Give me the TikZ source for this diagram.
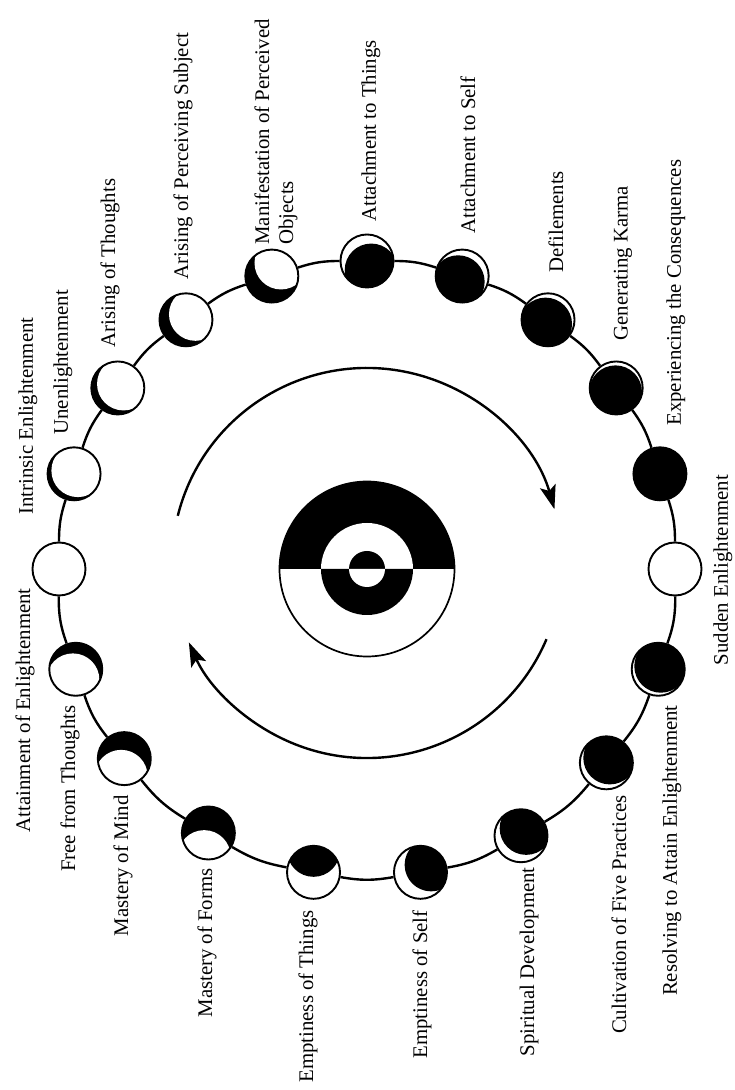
\documentclass[tikz,border=0pt]{standalone}
\usepackage{fontspec}
\setmainfont{Liberation Serif}
\usetikzlibrary{arrows.meta,calc}

\begin{document}
\begin{tikzpicture}[
  x=0.5pt, y=0.5pt,
  font=\fontsize{10.4}{12}\selectfont,
  moon/.style={draw, circle, line width=0.95pt, minimum size=26.5pt, inner sep=0pt, fill=white},
  blank/.style={moon},
  full/.style={moon, fill=black},
  litmoon/.style 2 args={moon, fill=black, path picture={
      \fill[white] ($(path picture bounding box.center)+(#1+180:#2)$) circle (13.25pt);}},
  darkmoon/.style 2 args={moon, fill=white, path picture={
      \fill[black] ($(path picture bounding box.center)+(#1+180:#2)$) circle (13.25pt);}},
  lbl/.style={rotate=90, inner sep=0pt},
  ring/.style={line width=1.2pt},
  arr/.style={line width=1.2pt, -{Stealth[length=12pt, width=8pt, inset=2.5pt]}}
]
\useasboundingbox (-367,-521) rectangle (367,569);

% ---------- centre ----------
\fill (87.5,0) arc (0:180:87.5) -- cycle;
\fill[white] (46,0) arc (0:180:46) -- cycle;
\fill (46,0) arc (0:-180:46) -- cycle;
\fill (18,0) arc (0:180:18) -- cycle;
\fill[white] (18,0) arc (0:-180:18) -- cycle;
\draw[line width=0.85pt] (0,0) circle (87.5);

% ---------- arrows ----------
\coordinate (a1) at ($(0,6)+(166:195)$);
\coordinate (a2) at ($(0,6)+(-23:195)$);
\draw[arr] (a1) arc[start angle=166, end angle=16, radius=195];
\draw[arr] (a2) arc[start angle=-23, end angle=-156, radius=195];

% ---------- upper half ----------
\node[blank] (m1) at (180:308) {};
\node[litmoon={220}{2.5pt}] (m2) at (162:308) {};
\node[litmoon={215}{3.5pt}] (m3) at (144:308) {};
\node[litmoon={210}{5.5pt}] (m4) at (126:308) {};
\node[litmoon={235}{8pt}] (m5) at (108:308) {};
\node[darkmoon={115}{5pt}] (m6) at (90:308) {};
\node[darkmoon={55}{3.5pt}] (m7) at (72:308) {};
\node[darkmoon={60}{2.5pt}] (m8) at (54:308) {};
\node[darkmoon={80}{2pt}] (m9) at (36:308) {};
\node[full] (m10) at (18:308) {};
\node[blank] (m11) at (0:308) {};

% ---------- lower half ----------
\node[darkmoon={230}{2pt}] (m12) at (-19:308) {};
\node[darkmoon={235}{3pt}] (m13) at (-39:308) {};
\node[darkmoon={235}{4.5pt}] (m14) at (-60:308) {};
\node[darkmoon={215}{6.5pt}] (m15) at (-80:308) {};
\node[darkmoon={270}{11pt}] (m16) at (-100:308) {};
\node[litmoon={80}{12pt}] (m17) at (-121:308) {};
\node[litmoon={80}{9pt}] (m18) at (-142:308) {};
\node[litmoon={75}{5.5pt}] (m19) at (-161:308) {};

\draw[ring] (m1) to[bend left=9] (m2); \draw[ring] (m2) to[bend left=9] (m3);
\draw[ring] (m3) to[bend left=9] (m4); \draw[ring] (m4) to[bend left=9] (m5);
\draw[ring] (m5) to[bend left=9] (m6); \draw[ring] (m6) to[bend left=9] (m7);
\draw[ring] (m7) to[bend left=9] (m8); \draw[ring] (m8) to[bend left=9] (m9);
\draw[ring] (m9) to[bend left=9] (m10); \draw[ring] (m10) to[bend left=9] (m11);
\draw[ring] (m11) to[bend left=10] (m12); \draw[ring] (m12) to[bend left=10] (m13);
\draw[ring] (m13) to[bend left=10] (m14); \draw[ring] (m14) to[bend left=10] (m15);
\draw[ring] (m15) to[bend left=10] (m16); \draw[ring] (m16) to[bend left=10] (m17);
\draw[ring] (m17) to[bend left=10] (m18); \draw[ring] (m18) to[bend left=10] (m19);
\draw[ring] (m19) to[bend left=10] (m1);

% ---------- labels ----------
\node[lbl, anchor=west] (t1) at (-339,54) {Intrinsic Enlightenment};
\node[lbl, anchor=west] (t2) at (-304,134) {Unenlightenment};
\node[lbl, anchor=west] (t3) at (-257,221) {Arising of Thoughts};
\node[lbl, anchor=west] (t4) at (-184,289) {Arising of Perceiving Subject};
\node[lbl, anchor=west, align=left] (t5) at (-91,324) {Manifestation of Perceived\\Objects};
\node[lbl, anchor=west] (t6) at (4,347) {Attachment to Things};
\node[lbl, anchor=west] (t7) at (101,335) {Attachment to Self};
\node[lbl, anchor=west] (t8) at (189,296) {Defilements};
\node[lbl, anchor=west] (t9) at (256,228) {Generating Karma};
\node[lbl, anchor=west] (t10) at (309,143) {Experiencing the Consequences};
\node[lbl] (t11) at (356,-1) {Sudden Enlightenment};
\node[lbl, anchor=east] (t12) at (305,-136) {Resolving to Attain Enlightenment};
\node[lbl, anchor=east] (t13) at (252,-226) {Cultivation of Five Practices};
\node[lbl, anchor=east] (t14) at (162,-298) {Spiritual Development};
\node[lbl, anchor=east] (t15) at (55,-341) {Emptiness of Self};
\node[lbl, anchor=east] (t16) at (-59,-341) {Emptiness of Things};
\node[lbl, anchor=east] (t17) at (-160,-299) {Mastery of Forms};
\node[lbl, anchor=east] (t18) at (-244,-226) {Mastery of Mind};
\node[lbl, anchor=east] (t19) at (-297,-136) {Free from Thoughts};
\node[lbl, anchor=east] (t20) at (-342,-19) {Attainment of Enlightenment};

\end{tikzpicture}
\end{document}
